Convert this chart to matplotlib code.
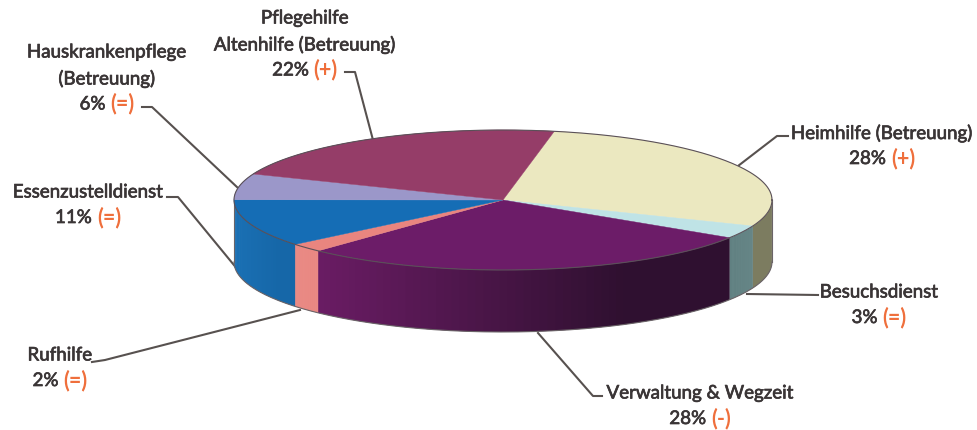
import matplotlib
matplotlib.use("Agg")
import matplotlib.pyplot as plt
import matplotlib.colors as mcolors
import matplotlib.patheffects as pe
import numpy as np

# Data, clockwise from the top
namen = ["Heimhilfe (Betreuung)", "Besuchsdienst", "Verwaltung & Wegzeit", "Rufhilfe",
         "Essenzustelldienst", "Hauskrankenpflege\n(Betreuung)", "Pflegehilfe\nAltenhilfe (Betreuung)"]
waarden = [28, 3, 28, 2, 11, 6, 22]
trends = ["(+)", "(=)", "(-)", "(=)", "(=)", "(=)", "(+)"]

kleur_top = ["#ebe8c0", "#bfe3e6", "#6c1c68", "#e9857f", "#156db5", "#9b97c9", "#953d68"]
kleur_links = ["#7c7c60", "#5e7f80", "#6a1c64", "#e9857f", "#1a70b4", "#9b97c9", "#953d68"]
kleur_rechts = ["#7c7c60", "#5e7f80", "#2f1030", "#e9857f", "#1667a8", "#9b97c9", "#953d68"]

# Layout in pixels
cx, cy, rx, ry, dikte = 503, 200, 269, 70, 62
start_hoek = 79

# centre x, y of first label line
label_pos = [(882, 133), (879, 292), (700, 393), (60, 355), (88, 192), (107, 52), (305, 18)]
lijnen = [
    [(788, 136), (777, 136), (738, 166)],
    [(818, 295), (747, 294)],
    [(602, 396), (593, 396), (538, 333)],
    [(92, 362), (105, 360), (300, 310)],
    [(167, 197), (178, 197), (238, 270)],
    [(142, 107), (152, 107), (238, 188)],
    [(345, 72), (355, 72), (373, 140)],
]

plt.rcParams["font.family"] = ["Lato", "DejaVu Sans"]
fig = plt.figure(figsize=(9.77, 4.30), dpi=100)
ax = fig.add_axes([0, 0, 1, 1])
ax.set_xlim(0, 977)
ax.set_ylim(430, 0)
ax.axis("off")


def punt_x(h):
    return cx + rx * np.cos(np.radians(h))


def punt_y(h):
    return cy - ry * np.sin(np.radians(h))


# Leader lines first, the pie sits on top of them
for lijn in lijnen:
    xs, ys = zip(*lijn)
    ax.plot(xs, ys, color="#57514f", lw=1.5, zorder=1, solid_joinstyle="round")

# Angles from the values
grenzen = start_hoek - np.cumsum([0] + waarden) * 3.6

# Side wall, only the part that faces the viewer
for i in range(len(waarden)):
    h1, h2 = grenzen[i], grenzen[i + 1]
    hoeken = np.linspace(h1, h2, 60)
    hoeken = hoeken[np.sin(np.radians(hoeken)) <= 0.001]
    if len(hoeken) < 2:
        continue
    xs = punt_x(hoeken)
    x_l, x_r = xs.min(), xs.max()
    c_l = np.array(mcolors.to_rgb(kleur_links[i]))
    c_r = np.array(mcolors.to_rgb(kleur_rechts[i]))
    for j in range(len(hoeken) - 1):
        t = min(1, (0.5 * (xs[j] + xs[j + 1]) - x_l) / (x_r - x_l) * 1.35)
        kl = c_l + (c_r - c_l) * t
        # overlap with the next strip, otherwise the antialiasing shows stripes
        a, b = hoeken[j], hoeken[min(j + 2, len(hoeken) - 1)]
        ax.fill([punt_x(a), punt_x(b), punt_x(b), punt_x(a)],
                [punt_y(a), punt_y(b), punt_y(b) + dikte, punt_y(a) + dikte],
                color=kl, lw=0, zorder=2 + i * 0.01)

# Outline of the wall
rand = np.linspace(180, 360, 200)
ax.plot(punt_x(rand), punt_y(rand) + dikte, color="#6b6468", lw=0.8, zorder=3)
ax.plot([cx - rx, cx - rx], [cy, cy + dikte], color="#6b6468", lw=0.8, zorder=3)
ax.plot([cx + rx, cx + rx], [cy, cy + dikte], color="#6b6468", lw=0.8, zorder=3)

# Top of the pie
for i in range(len(waarden)):
    hoeken = np.linspace(grenzen[i], grenzen[i + 1], 80)
    ax.fill(np.r_[cx, punt_x(hoeken)], np.r_[cy, punt_y(hoeken)],
            color=kleur_top[i], lw=0.3, zorder=4)

rand = np.linspace(0, 360, 400)
ax.plot(punt_x(rand), punt_y(rand), color="#5a5058", lw=0.8, zorder=5)

# Labels
renderer = fig.canvas.get_renderer()
grootte = 13.5
regel = 26.5
dik = [pe.withStroke(linewidth=0.5, foreground="#3a3536")]
for i in range(len(namen)):
    x, y = label_pos[i]
    regels = namen[i].split("\n")
    for k, tekst in enumerate(regels):
        ax.text(x, y + k * regel, tekst, ha="center", va="center", fontsize=grootte,
                color="#3a3536", path_effects=dik)
    y_p = y + len(regels) * regel - 1
    deel1 = ax.text(0, y_p, f"{waarden[i]}% ", ha="left", va="center", fontsize=grootte,
                    color="#3a3536", path_effects=dik)
    deel2 = ax.text(0, y_p, trends[i], ha="left", va="center", fontsize=15.5,
                    color="#ef6f3c", fontweight="bold")
    b1 = deel1.get_window_extent(renderer).width
    b2 = deel2.get_window_extent(renderer).width
    links = x - (b1 + b2) / 2
    deel1.set_x(links)
    deel2.set_x(links + b1)

fig.savefig("out.png", dpi=100)
